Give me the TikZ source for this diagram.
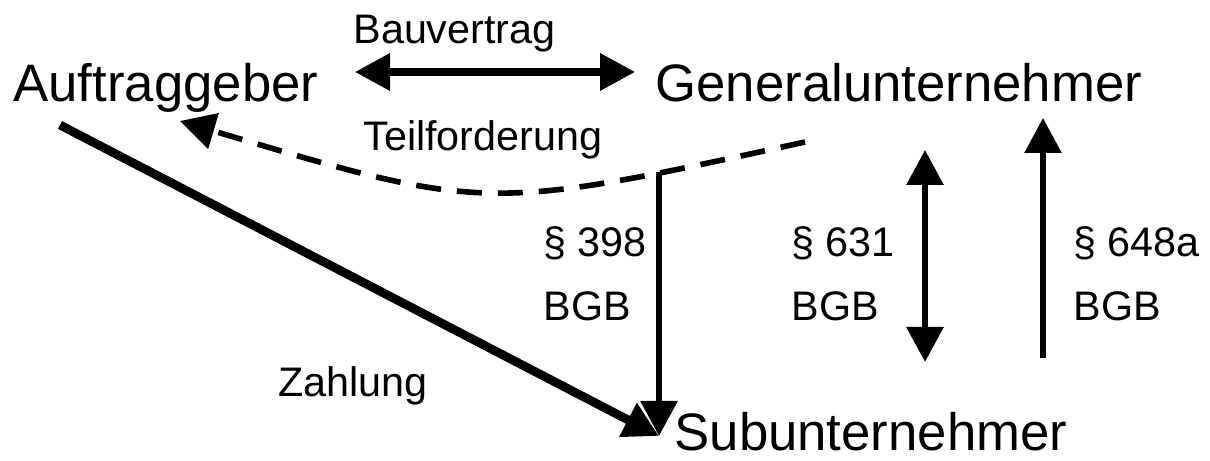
\documentclass[tikz,border=0pt]{standalone}
\usepackage{fontspec}
\setmainfont{Liberation Sans}
\usetikzlibrary{arrows.meta}

\begin{document}
\begin{tikzpicture}[->, >={Triangle[length=0.7cm,width=0.72cm]}, line width=4pt,
		big/.style={font=\fontsize{30}{36}\selectfont, inner sep=0pt, anchor=base west},
		small/.style={font=\fontsize{23.5}{28}\selectfont, inner sep=0pt, anchor=base west}]
			\useasboundingbox (0,0) rectangle (24.2,9.22);
			\node[big] (1) at (0.2,7.18) {Auftraggeber};
			\node[big] (2) at (13.04,7.18) {Generalunternehmer};
			\node[big] (3) at (13.42,0.2) {Subunternehmer};
			\node[small] (4) at (7.0,8.34) {Bauvertrag};
			\node[small] (5) at (7.2,6.2) {Teilforderung};
			\node[small] (6) at (10.8,4.08) {\S{} 398};
			\node[small] (7) at (10.8,2.8) {BGB};
			\node[small] (8) at (15.76,4.08) {\S{} 631};
			\node[small] (9) at (15.76,2.8) {BGB};
			\node[small] (10) at (21.4,4.08) {\S{} 648a};
			\node[small] (11) at (21.4,2.8) {BGB};
			\node[small] (12) at (5.5,1.28) {Zahlung};

			\coordinate (b1) at (7.1,7.78);
			\coordinate (b2) at (12.7,7.78);
			\coordinate (t1) at (16.1,6.38);
			\coordinate (t2) at (3.6,6.8);
			\coordinate (s1) at (13.18,5.78);
			\coordinate (s2) at (13.18,0.5);
			\coordinate (g1) at (18.5,6.22);
			\coordinate (g2) at (18.5,1.98);
			\coordinate (h1) at (20.86,2.06);
			\coordinate (h2) at (20.86,6.86);
			\coordinate (z1) at (1.2,6.72);

			\draw[<->] (b1) -- (b2);
			\draw[line width=3.2pt, dash pattern=on 0.5cm off 0.32cm] (t1) .. controls (9.7,4.98) .. (t2);
			\draw[line width=3.6pt] (s1) -- (s2);
			\draw[<->, line width=3.6pt] (g1) -- (g2);
			\draw[line width=3.4pt] (h1) -- (h2);
			\draw[line width=5pt] (z1) -- (s2);

		  \end{tikzpicture}
\end{document}
